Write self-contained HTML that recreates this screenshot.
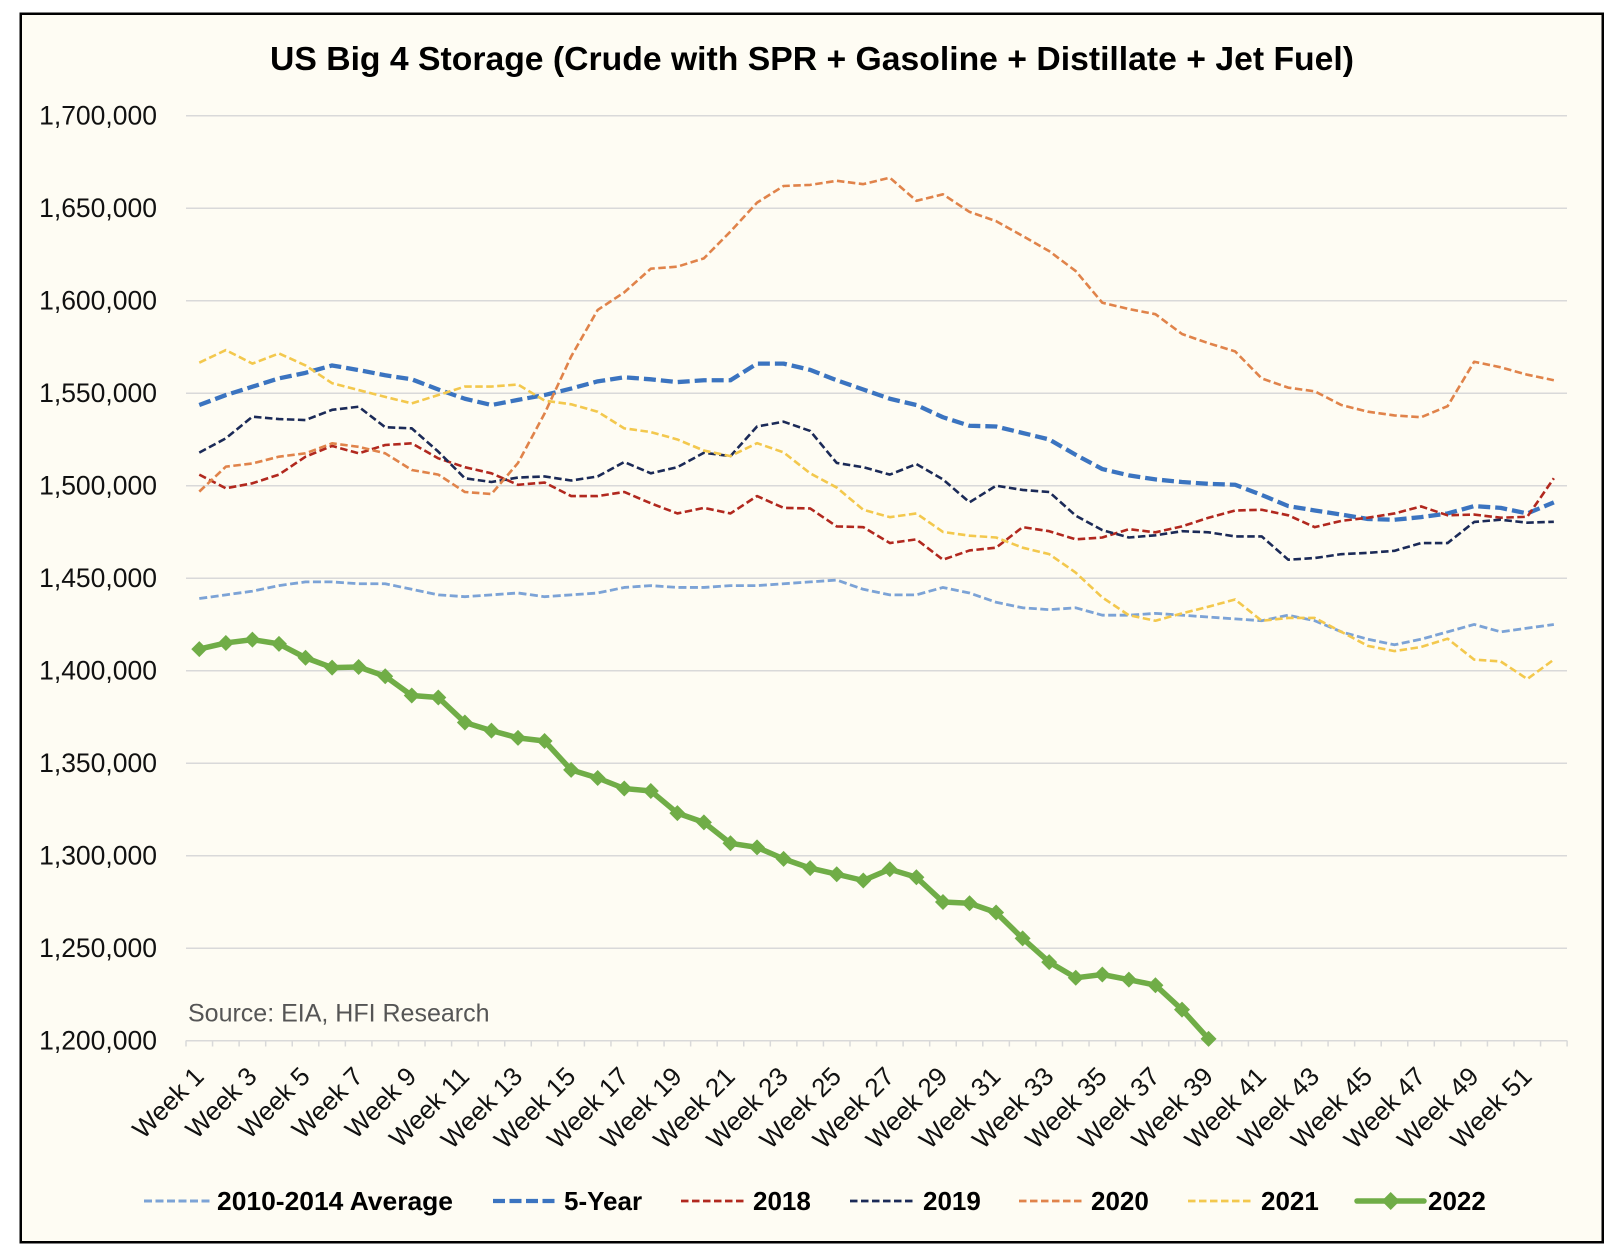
<!DOCTYPE html>
<html>
<head>
<meta charset="utf-8">
<style>
  html, body { margin:0; padding:0; background:#ffffff; }
  svg { display:block; }
  .yl { font-family:"Liberation Sans", Arial, sans-serif; font-size:26.5px; fill:#111; }
  .xl { font-family:"Liberation Sans", Arial, sans-serif; font-size:26px; fill:#111; }
  .lg { font-family:"Liberation Sans", Arial, sans-serif; font-size:26px; font-weight:bold; fill:#000; }
  .ser { fill:none; stroke-linejoin:round; }
</style>
</head>
<body>
<svg width="1618" height="1260" viewBox="0 0 1618 1260" xmlns="http://www.w3.org/2000/svg">
  <defs>
    <marker id="dia" markerUnits="userSpaceOnUse" markerWidth="20" markerHeight="20" refX="10" refY="10" overflow="visible">
      <path d="M10,2 L18,10 L10,18 L2,10 Z" fill="#70ad47"/>
    </marker>
  </defs>

  <!-- chart frame -->
  <rect x="20.75" y="13.75" width="1582" height="1228.5" fill="#fefcf3" stroke="#000" stroke-width="2.5"/>

  <!-- title -->
  <text x="270" y="70" textLength="1084" lengthAdjust="spacingAndGlyphs" font-family="Liberation Sans, Arial, sans-serif" font-size="33.5" font-weight="bold" fill="#000">US Big 4 Storage (Crude with SPR + Gasoline + Distillate + Jet Fuel)</text>

  <!-- gridlines -->
  <g stroke="#d9d9d9" stroke-width="1.5">
    <line x1="186" y1="115.7" x2="1567" y2="115.7"/>
    <line x1="186" y1="208.2" x2="1567" y2="208.2"/>
    <line x1="186" y1="300.7" x2="1567" y2="300.7"/>
    <line x1="186" y1="393.2" x2="1567" y2="393.2"/>
    <line x1="186" y1="485.7" x2="1567" y2="485.7"/>
    <line x1="186" y1="578.2" x2="1567" y2="578.2"/>
    <line x1="186" y1="670.7" x2="1567" y2="670.7"/>
    <line x1="186" y1="763.2" x2="1567" y2="763.2"/>
    <line x1="186" y1="855.7" x2="1567" y2="855.7"/>
    <line x1="186" y1="948.2" x2="1567" y2="948.2"/>
    <line x1="186" y1="1040.7" x2="1567" y2="1040.7"/>
  </g>
  <!-- tick marks -->
  <line x1="185.25" y1="1043.5" x2="1568" y2="1043.5" stroke="#d9d9d9" stroke-width="6" stroke-dasharray="1.5 25.06"/>

  <!-- y labels -->
  <g class="yl" text-anchor="end">
    <text x="157" y="124.7">1,700,000</text>
    <text x="157" y="217.2">1,650,000</text>
    <text x="157" y="309.7">1,600,000</text>
    <text x="157" y="402.2">1,550,000</text>
    <text x="157" y="494.7">1,500,000</text>
    <text x="157" y="587.2">1,450,000</text>
    <text x="157" y="679.7">1,400,000</text>
    <text x="157" y="772.2">1,350,000</text>
    <text x="157" y="864.7">1,300,000</text>
    <text x="157" y="957.2">1,250,000</text>
    <text x="157" y="1049.7">1,200,000</text>
  </g>

  <!-- x labels -->
  <g class="xl" text-anchor="end">
    <text transform="translate(205.3,1078) rotate(-45)">Week 1</text>
    <text transform="translate(258.4,1078) rotate(-45)">Week 3</text>
    <text transform="translate(311.5,1078) rotate(-45)">Week 5</text>
    <text transform="translate(364.6,1078) rotate(-45)">Week 7</text>
    <text transform="translate(417.8,1078) rotate(-45)">Week 9</text>
    <text transform="translate(470.9,1078) rotate(-45)">Week 11</text>
    <text transform="translate(524.0,1078) rotate(-45)">Week 13</text>
    <text transform="translate(577.1,1078) rotate(-45)">Week 15</text>
    <text transform="translate(630.2,1078) rotate(-45)">Week 17</text>
    <text transform="translate(683.4,1078) rotate(-45)">Week 19</text>
    <text transform="translate(736.5,1078) rotate(-45)">Week 21</text>
    <text transform="translate(789.6,1078) rotate(-45)">Week 23</text>
    <text transform="translate(842.7,1078) rotate(-45)">Week 25</text>
    <text transform="translate(895.8,1078) rotate(-45)">Week 27</text>
    <text transform="translate(949.0,1078) rotate(-45)">Week 29</text>
    <text transform="translate(1002.1,1078) rotate(-45)">Week 31</text>
    <text transform="translate(1055.2,1078) rotate(-45)">Week 33</text>
    <text transform="translate(1108.3,1078) rotate(-45)">Week 35</text>
    <text transform="translate(1161.4,1078) rotate(-45)">Week 37</text>
    <text transform="translate(1214.6,1078) rotate(-45)">Week 39</text>
    <text transform="translate(1267.7,1078) rotate(-45)">Week 41</text>
    <text transform="translate(1320.8,1078) rotate(-45)">Week 43</text>
    <text transform="translate(1373.9,1078) rotate(-45)">Week 45</text>
    <text transform="translate(1427.0,1078) rotate(-45)">Week 47</text>
    <text transform="translate(1480.2,1078) rotate(-45)">Week 49</text>
    <text transform="translate(1533.3,1078) rotate(-45)">Week 51</text>
  </g>

  <!-- source -->
  <text x="188" y="1021.5" font-family="Liberation Sans, Arial, sans-serif" font-size="25" fill="#555">Source: EIA, HFI Research</text>

  <!-- series in data coordinates -->
  <g transform="matrix(26.56 0 0 -1.85 172.72 3260.7)">
    <polyline class="ser" vector-effect="non-scaling-stroke" stroke="#7ca3d6" stroke-width="2.8" stroke-dasharray="8 3.5"
      points="1,1439 2,1441 3,1443 4,1446 5,1448 6,1448 7,1447 8,1447 9,1444 10,1441 11,1440 12,1441 13,1442 14,1440 15,1441 16,1442 17,1445 18,1446 19,1445 20,1445 21,1446 22,1446 23,1447 24,1448 25,1449 26,1444 27,1441 28,1441 29,1445 30,1442 31,1437 32,1434 33,1433 34,1434 35,1430 36,1430 37,1431 38,1430 39,1429 40,1428 41,1427 42,1430 43,1427 44,1421 45,1417 46,1414 47,1417 48,1421 49,1425 50,1421 51,1423 52,1425"/>
    <polyline class="ser" vector-effect="non-scaling-stroke" stroke="#3b74c0" stroke-width="4.3" stroke-dasharray="12 5"
      points="1,1543.6 2,1549 3,1553.5 4,1558 5,1561 6,1565 7,1562.5 8,1559.7 9,1557.5 10,1552 11,1547 12,1543.6 13,1546.4 14,1549 15,1552.5 16,1556.4 17,1558.6 18,1557.5 19,1556 20,1557 21,1557 22,1566 23,1566 24,1562.6 25,1557 26,1552 27,1547 28,1543.6 29,1537 30,1532.4 31,1532 32,1528.5 33,1525 34,1516.7 35,1509 36,1505.6 37,1503.4 38,1502 39,1501 40,1500.5 41,1495 42,1489 43,1486.6 44,1484.4 45,1482 46,1481.6 47,1483 48,1485 49,1489 50,1488 51,1485 52,1491"/>
    <polyline class="ser" vector-effect="non-scaling-stroke" stroke="#b1281e" stroke-width="2.6" stroke-dasharray="7.5 3.5"
      points="1,1506 2,1498.6 3,1501.3 4,1506 5,1515.7 6,1521.5 7,1517.5 8,1522 9,1522.9 10,1514.8 11,1510 12,1506.7 13,1500.5 14,1501.7 15,1494.4 16,1494.4 17,1496.6 18,1490.5 19,1485 20,1488 21,1485 22,1494.4 23,1488 24,1487.7 25,1478 26,1477.6 27,1469 28,1471 29,1460 30,1465 31,1466.5 32,1477.6 33,1475.4 34,1471 35,1472 36,1476.5 37,1474.8 38,1478 39,1482.7 40,1486.6 41,1487 42,1484 43,1477.6 44,1481 45,1482.7 46,1485 47,1488.8 48,1484 49,1484.4 50,1482.7 51,1483.2 52,1504"/>
    <polyline class="ser" vector-effect="non-scaling-stroke" stroke="#1b2a57" stroke-width="2.6" stroke-dasharray="7.5 3.5"
      points="1,1517.9 2,1525.6 3,1537.3 4,1536 5,1535.5 6,1541 7,1542.7 8,1531.6 9,1531 10,1518.4 11,1504 12,1502 13,1504.4 14,1505 15,1502.8 16,1505 17,1512.8 18,1506.7 19,1510 20,1517.8 21,1516 22,1532 23,1534.6 24,1529.6 25,1512.3 26,1510 27,1506 28,1511.7 29,1503.4 30,1491 31,1500 32,1497.7 33,1496.6 34,1483.8 35,1476 36,1472 37,1473.2 38,1475.4 39,1474.8 40,1472.6 41,1472.6 42,1460 43,1460.9 44,1463 45,1463.7 46,1464.8 47,1469 48,1469 49,1480.4 50,1481.6 51,1480 52,1480.5"/>
    <polyline class="ser" vector-effect="non-scaling-stroke" stroke="#e0834a" stroke-width="2.6" stroke-dasharray="7.5 3.5"
      points="1,1496.8 2,1510.3 3,1512 4,1515.7 5,1517.5 6,1522.9 7,1521 8,1517.5 9,1508.5 10,1506 11,1496.6 12,1495.5 13,1512.3 14,1539 15,1569.8 16,1595 17,1604.5 18,1617.3 19,1618.4 20,1622.9 21,1637.4 22,1653 23,1662 24,1662.6 25,1664.8 26,1663 27,1666.5 28,1654 29,1657.5 30,1648 31,1643 32,1635 33,1626.8 34,1616 35,1598.9 36,1595.5 37,1592.7 38,1582 39,1577 40,1572.6 41,1558 42,1553 43,1551 44,1543.6 45,1540 46,1538 47,1537 48,1543 49,1567 50,1564 51,1560 52,1557"/>
    <polyline class="ser" vector-effect="non-scaling-stroke" stroke="#f3c84d" stroke-width="2.6" stroke-dasharray="7.5 3.5"
      points="1,1566.5 2,1573.3 3,1566 4,1571.5 5,1565 6,1555.4 7,1551.7 8,1548 9,1544.5 10,1549 11,1553.6 12,1553.6 13,1554.7 14,1546 15,1544 16,1540 17,1531 18,1529 19,1525 20,1519 21,1516 22,1523 23,1518 24,1506.7 25,1499 26,1487 27,1483 28,1485 29,1475 30,1473 31,1472 32,1466.5 33,1463 34,1453 35,1439.6 36,1430 37,1427 38,1431 39,1434.6 40,1438.5 41,1427 42,1428.5 43,1428.5 44,1421 45,1413.4 46,1410.6 47,1412.8 48,1417.3 49,1406 50,1405 51,1395.5 52,1406"/>
  </g>

  <!-- 2022 series in pixel coordinates -->
  <polyline fill="none" stroke="#70ad47" stroke-width="5.5" stroke-linejoin="round"
    marker-start="url(#dia)" marker-mid="url(#dia)" marker-end="url(#dia)"
    points="199.28,649.1 225.84,642.95 252.40,639.6 278.96,643.9 305.52,657.75 332.08,667.6 358.64,667.0 385.20,676.25 411.76,695.5 438.32,697.5 464.88,722.5 491.44,730.6 518.00,737.85 544.56,741.0 571.12,769.9 597.68,778.0 624.24,788.5 650.80,790.95 677.36,813.15 703.92,822.4 730.48,843.3 757.04,847.4 783.60,858.85 810.16,868.1 836.72,874.2 863.28,880.5 889.84,869.2 916.40,877.3 942.96,901.95 969.52,903.25 996.08,912.5 1022.64,938.4 1049.20,962.1 1075.76,977.8 1102.32,974.5 1128.88,979.65 1155.44,985.2 1182.00,1009.6 1208.56,1038.85"/>

  <!-- legend -->
  <g>
    <line x1="144" y1="1201" x2="210" y2="1201" stroke="#7ca3d6" stroke-width="3" stroke-dasharray="8 3.5"/>
    <text class="lg" x="217" y="1210" textLength="236" lengthAdjust="spacingAndGlyphs">2010-2014 Average</text>

    <line x1="493" y1="1201" x2="557" y2="1201" stroke="#3b74c0" stroke-width="4.3" stroke-dasharray="12 4.5"/>
    <text class="lg" x="564" y="1210">5-Year</text>

    <line x1="681" y1="1201" x2="747" y2="1201" stroke="#b1281e" stroke-width="2.8" stroke-dasharray="7.5 3.5"/>
    <text class="lg" x="753" y="1210">2018</text>

    <line x1="850" y1="1201" x2="916" y2="1201" stroke="#1b2a57" stroke-width="2.8" stroke-dasharray="7.5 3.5"/>
    <text class="lg" x="923" y="1210">2019</text>

    <line x1="1019" y1="1201" x2="1085" y2="1201" stroke="#e0834a" stroke-width="2.8" stroke-dasharray="7.5 3.5"/>
    <text class="lg" x="1091" y="1210">2020</text>

    <line x1="1188" y1="1201" x2="1253" y2="1201" stroke="#f3c84d" stroke-width="2.8" stroke-dasharray="7.5 3.5"/>
    <text class="lg" x="1261" y="1210">2021</text>

    <line x1="1357" y1="1201" x2="1424" y2="1201" stroke="#70ad47" stroke-width="5.5" stroke-linecap="round"/>
    <path d="M1390.7,1192 L1399.7,1201 L1390.7,1210 L1381.7,1201 Z" fill="#70ad47"/>
    <text class="lg" x="1428" y="1210">2022</text>
  </g>
</svg>
</body>
</html>
